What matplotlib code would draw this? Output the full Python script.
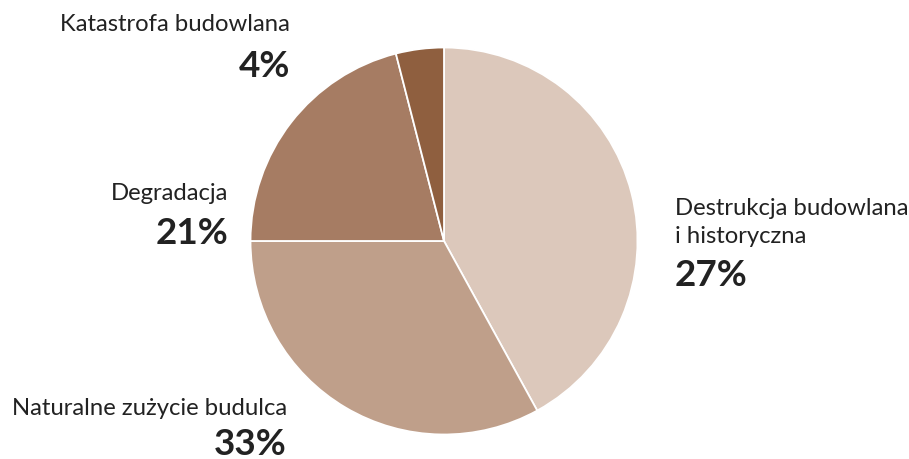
import matplotlib
matplotlib.use("Agg")
import matplotlib.pyplot as plt

categories = [["Destrukcja budowlana", "i historyczna"], ["Naturalne zużycie budulca"],
              ["Degradacja"], ["Katastrofa budowlana"]]
shares = [42, 33, 21, 4]
pct_labels = ["27%", "33%", "21%", "4%"]
colors = ["#dcc8bb", "#bf9f8a", "#a67c63", "#8f5f3f"]

W, H = 909, 460
fig = plt.figure(figsize=(W / 100, H / 100), dpi=100)
cx, cy, r = 444, 242, 193.5
ax = fig.add_axes([(cx - r) / W, (H - cy - r) / H, 2 * r / W, 2 * r / H])
ax.pie(shares, colors=colors, startangle=90, counterclock=False, radius=1,
       wedgeprops=dict(edgecolor="white", linewidth=1.3))
ax.set_xlim(-1, 1)
ax.set_ylim(-1, 1)
ax.set_aspect("equal")
ax.axis("off")

txt_color = "#222222"
fam = ["Lato", "DejaVu Sans"]
lab_fs = 17.2
pct_fs = 26.5

def px(x, y):
    return x / W, 1 - y / H

# (x, first label baseline y, pct baseline y, alignment)
positions = [
    (675, 215, 286, "left"),
    (287, 415, 455, "right"),
    (228, 200, 244, "right"),
    (290, 31, 77, "right"),
]
line_gap = 28
for lines, pct, (x, ly, py, ha) in zip(categories, pct_labels, positions):
    for i, line in enumerate(lines):
        fig.text(*px(x, ly + i * line_gap), line, ha=ha, va="baseline", fontsize=lab_fs,
                 family=fam, color=txt_color)
    fig.text(*px(x, py), pct, ha=ha, va="baseline", fontsize=pct_fs,
             family=fam, fontweight="bold", color=txt_color)

fig.savefig("out.png", dpi=100, facecolor="white")
